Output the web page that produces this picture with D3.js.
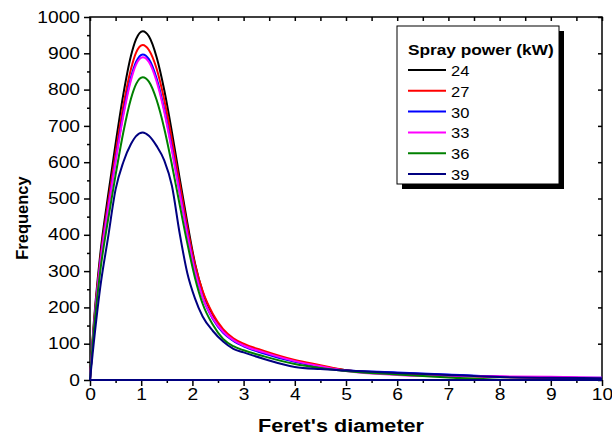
<!DOCTYPE html>
<html>
<head>
<meta charset="utf-8">
<script src="https://cdn.jsdelivr.net/npm/d3@7"></script>
<style>
  html, body { margin: 0; padding: 0; background: #fff; }
  svg { display: block; font-family: "Liberation Sans", Arial, sans-serif; }
</style>
</head>
<body>
<div id="chart"></div>
<script>
(function () {
  'use strict';

  // Feret's diameter sample positions shared by all series
  const DIAMETER = [0, 0.05, 0.2, 0.35, 0.5, 0.65, 0.8, 0.9, 1.03, 1.15, 1.3, 1.45, 1.6, 1.75, 1.9,
    2.05, 2.2, 2.4, 2.6, 2.8, 3.0, 3.4, 4.0, 4.5, 5, 6, 7, 8, 9, 10];

  // Frequency per spray power
  const FREQ_24 = [0, 110, 346, 505, 651, 786, 893, 939, 961, 947, 890, 799, 683, 557, 434,
    322, 243, 178, 136, 112, 97, 76, 52, 38, 27, 19, 13, 9, 6, 5];
  const FREQ_27 = [0, 105, 332, 486, 625, 755, 857, 902, 923, 909, 858, 772, 662, 542, 422,
    318, 245, 182, 140, 115, 100, 80, 55, 41, 27, 18, 12, 8, 6, 5];
  const FREQ_30 = [0, 100, 323, 472, 607, 734, 833, 876, 897, 884, 831, 745, 638, 520, 405,
    302, 228, 168, 130, 108, 93, 73, 50, 36, 26, 21, 15, 9, 7, 6];
  const FREQ_33 = [0, 100, 320, 468, 602, 727, 826, 869, 889, 876, 823, 739, 632, 516, 402,
    300, 228, 170, 133, 110, 95, 76, 52, 38, 25, 14, 10, 10, 9, 6];
  const FREQ_36 = [0, 95, 300, 439, 565, 682, 775, 815, 834, 822, 772, 693, 593, 484, 377,
    282, 210, 152, 113, 93, 82, 65, 44, 33, 25, 15, 7, 1, 0, 0];
  const FREQ_39 = [0, 70, 255, 390, 525, 600, 650, 672, 682, 673, 645, 605, 535, 405, 295,
    225, 175, 135, 106, 86, 76, 58, 36, 30, 26, 19, 14, 8, 6, 5];

  const POWERS = ['24', '27', '30', '33', '36', '39'];
  const SERIES = [FREQ_24, FREQ_27, FREQ_30, FREQ_33, FREQ_36, FREQ_39];
  const COLORS = ['#000000', '#FF0000', '#0000FF', '#FF00FF', '#008000', '#000080'];

  const X_TICKS = [0, 1, 2, 3, 4, 5, 6, 7, 8, 9, 10];
  const Y_TICKS = [0, 100, 200, 300, 400, 500, 600, 700, 800, 900, 1000];

  const W = 612, H = 441;
  const plot = { left: 90, right: 602, top: 17, bottom: 380 };

  const svg = d3.select('#chart').append('svg')
    .attr('width', W).attr('height', H)
    .attr('viewBox', `0 0 ${W} ${H}`);

  const x = d3.scaleLinear().domain([0, 10]).range([plot.left, plot.right]);
  const y = d3.scaleLinear().domain([0, 1000]).range([plot.bottom, plot.top]);

  // the original text is a little wider than Arial, stretch it
  function widen(sel, k) {
    sel.each(function () {
      const len = this.getComputedTextLength();
      d3.select(this).attr('textLength', len * k).attr('lengthAdjust', 'spacingAndGlyphs');
    });
  }

  function styleAxis(g) {
    g.select('.domain').remove();
    g.selectAll('.tick line').attr('stroke', '#000').attr('stroke-width', 1.5);
    g.selectAll('.tick text').attr('fill', '#000').attr('font-size', 16)
      .attr('font-family', '"Liberation Sans", Arial, sans-serif');
  }

  const minorX = d3.range(0.5, 10, 1);
  const minorY = d3.range(50, 1000, 100);

  // --- bottom axis (outward ticks) ---
  svg.append('g').attr('transform', `translate(0,${plot.bottom})`)
    .call(d3.axisBottom(x).tickValues(X_TICKS).tickSize(6).tickPadding(3).tickFormat(d3.format('d')))
    .call(styleAxis)
    .call(g => widen(g.selectAll('text'), 1.2));
  svg.append('g').attr('transform', `translate(0,${plot.bottom})`)
    .call(d3.axisBottom(x).tickValues(minorX).tickSize(3).tickFormat(''))
    .call(styleAxis);

  // --- left axis (outward ticks) ---
  svg.append('g').attr('transform', `translate(${plot.left},0)`)
    .call(d3.axisLeft(y).tickValues(Y_TICKS).tickSize(6).tickPadding(4).tickFormat(d3.format('d')))
    .call(styleAxis)
    .call(g => widen(g.selectAll('text'), 1.2));
  svg.append('g').attr('transform', `translate(${plot.left},0)`)
    .call(d3.axisLeft(y).tickValues(minorY).tickSize(3).tickFormat(''))
    .call(styleAxis);

  // --- top and right axes (inward ticks, no labels) ---
  svg.append('g').attr('transform', `translate(0,${plot.top})`)
    .call(d3.axisTop(x).tickValues(X_TICKS.concat(minorX)).tickSize(-4).tickFormat(''))
    .call(styleAxis);
  svg.append('g').attr('transform', `translate(${plot.right},0)`)
    .call(d3.axisRight(y).tickValues(Y_TICKS).tickSize(-4).tickFormat(''))
    .call(styleAxis);

  // frame
  svg.append('rect')
    .attr('x', plot.left).attr('y', plot.top)
    .attr('width', plot.right - plot.left).attr('height', plot.bottom - plot.top)
    .attr('fill', 'none').attr('stroke', '#000').attr('stroke-width', 1.5);

  // --- curves ---
  const line = d3.line()
    .x((d, i) => x(DIAMETER[i]))
    .y(d => y(d))
    .curve(d3.curveMonotoneX);

  SERIES.forEach((vals, s) => {
    svg.append('path')
      .attr('d', line(vals))
      .attr('fill', 'none')
      .attr('stroke', COLORS[s])
      .attr('stroke-width', 2);
  });

  // navy baseline along zero
  svg.append('line')
    .attr('x1', x(0)).attr('x2', x(10))
    .attr('y1', y(0)).attr('y2', y(0))
    .attr('stroke', COLORS[5]).attr('stroke-width', 2);

  // --- axis titles ---
  svg.append('text')
    .attr('x', 341).attr('y', 432)
    .attr('text-anchor', 'middle').attr('font-size', 18).attr('font-weight', 'bold')
    .text("Feret's diameter")
    .call(t => widen(t, 1.2));

  svg.append('text')
    .attr('transform', 'translate(28,218) rotate(-90)')
    .attr('text-anchor', 'middle').attr('font-size', 16.5).attr('font-weight', 'bold')
    .text('Frequency');

  // --- legend ---
  const lg = svg.append('g').attr('transform', 'translate(397,26)');
  lg.append('rect').attr('x', 5).attr('y', 5).attr('width', 162).attr('height', 158).attr('fill', '#000');
  lg.append('rect').attr('x', 0).attr('y', 0).attr('width', 162).attr('height', 158)
    .attr('fill', '#fff').attr('stroke', '#000').attr('stroke-width', 1);
  lg.append('text').attr('x', 11).attr('y', 29)
    .attr('font-size', 15).attr('font-weight', 'bold')
    .text('Spray power (kW)')
    .call(t => widen(t, 1.15));

  POWERS.forEach((p, i) => {
    const ry = 44 + i * 20.8;
    lg.append('line')
      .attr('x1', 11).attr('x2', 49).attr('y1', ry).attr('y2', ry)
      .attr('stroke', COLORS[i]).attr('stroke-width', 2);
    lg.append('text')
      .attr('x', 54).attr('y', ry + 6)
      .attr('font-size', 15)
      .text(p)
      .call(t => widen(t, 1.1));
  });
})();
</script>
</body>
</html>
